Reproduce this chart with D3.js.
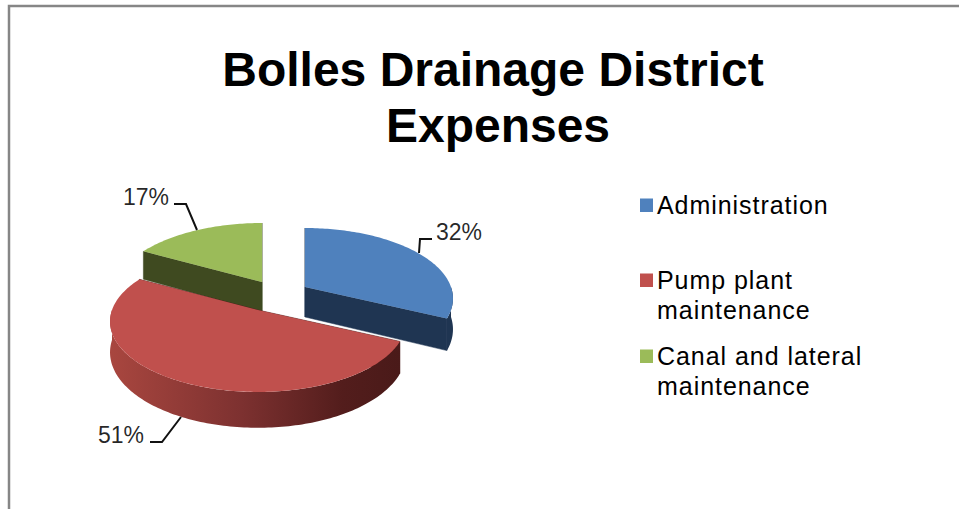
<!DOCTYPE html>
<html>
<head>
<meta charset="utf-8">
<script src="https://cdn.jsdelivr.net/npm/d3@7"></script>
<style>
  html, body { margin: 0; padding: 0; background: #fff; }
  svg { display: block; }
  text { font-family: "Liberation Sans", Arial, sans-serif; fill: #000; }
</style>
</head>
<body>
<script>
const titleLines = ["Bolles Drainage District", "Expenses"];
const categories = ["Administration", "Pump plant maintenance", "Canal and lateral maintenance"];
const values = [32, 51, 17];
const legendLines = [["Administration"], ["Pump plant", "maintenance"], ["Canal and lateral", "maintenance"]];

const topColors = ["#4f81bd", "#c0504d", "#9bbb59"];
const wallColors = ["#1f3552", "#4a1a19", "#3f4a20"];

var width = 959;
var height = 509;

// pie "3D" projection, back of the disc is squeezed a bit
var cx = 258, cy = 310;
var rx = 146, ry = 68.6, persp = 0.163, depth = 30;

// how far each slice was pulled out of the pie
var explode = [[47, -23], [0, 0], [4, -28]];

var svg = d3.select("body").append("svg")
  .attr("width", width)
  .attr("height", height);

// frame
svg.append("path")
  .attr("d", "M9,509V6H959")
  .attr("fill", "none")
  .attr("stroke", "#868686")
  .attr("stroke-width", 2.5);

// title
var titleX = [493, 498];
svg.selectAll("text.title")
  .data(titleLines)
  .enter().append("text")
  .attr("class", "title")
  .attr("x", function(d, i) { return titleX[i]; })
  .attr("y", function(d, i) { return 86 + i * 56; })
  .attr("text-anchor", "middle")
  .attr("font-size", 48)
  .attr("font-weight", "bold")
  .text(function(d) { return d; });

var defs = svg.append("defs");
var wallGrad = defs.append("linearGradient")
  .attr("id", "redWall")
  .attr("gradientUnits", "userSpaceOnUse")
  .attr("x1", cx - rx).attr("x2", cx + rx * 0.97)
  .attr("y1", 0).attr("y2", 0);
wallGrad.append("stop").attr("offset", "0").attr("stop-color", "#a8463f");
wallGrad.append("stop").attr("offset", "0.45").attr("stop-color", "#7d3130");
wallGrad.append("stop").attr("offset", "0.8").attr("stop-color", "#531d1c");
wallGrad.append("stop").attr("offset", "1").attr("stop-color", "#4a1a19");

var pie = d3.pie().sort(null);
var slices = pie(values);

function project(a, r, i, drop) {
  var u = Math.sin(a) * r, v = Math.cos(a) * r;
  var s = 1 / (1 + persp * v);
  return [
    cx + explode[i][0] + rx * u * s,
    cy + explode[i][1] - ry * v * s + (drop ? depth * s : 0)
  ];
}

function arcPoints(a0, a1, i, drop) {
  var n = Math.max(2, Math.ceil((a1 - a0) / 0.02));
  return d3.range(n + 1).map(function(k) {
    return project(a0 + (a1 - a0) * k / n, 1, i, drop);
  });
}

var line = d3.line();
var g = svg.append("g");

// back to front so the red slice covers the foot of the green walls
[2, 0, 1].forEach(function(i) {
  var d = slices[i];
  var a0 = d.startAngle, a1 = d.endAngle;
  var apex = project(0, 0, i, false), apexLow = project(0, 0, i, true);

  // inner walls along the two cuts
  [a0, a1].forEach(function(a) {
    g.append("path")
      .attr("d", line([apex, project(a, 1, i, false), project(a, 1, i, true), apexLow]) + "Z")
      .attr("fill", wallColors[i])
      .attr("stroke", wallColors[i])
      .attr("stroke-width", 0.5);
  });

  // outer wall, only the part that faces the viewer
  var w0 = Math.max(a0, Math.PI / 2), w1 = Math.min(a1, Math.PI * 1.5);
  if (w1 > w0) {
    var upper = arcPoints(w0, w1, i, false);
    var lower = arcPoints(w0, w1, i, true).reverse();
    g.append("path")
      .attr("d", line(upper.concat(lower)) + "Z")
      .attr("fill", i === 1 ? "url(#redWall)" : wallColors[i]);
  }

  // top face
  g.append("path")
    .attr("d", line([apex].concat(arcPoints(a0, a1, i, false))) + "Z")
    .attr("fill", topColors[i]);
});

// data labels with leader lines
var labelPos = [[436, 240], [98, 443], [123, 205]];
var leaders = [
  [[432, 239], [420, 239], [419, 253]],
  [[150, 442], [162, 442], [181, 417]],
  [[174, 204], [186, 204], [197, 230]]
];

values.forEach(function(v, i) {
  svg.append("path")
    .attr("d", line(leaders[i]))
    .attr("fill", "none")
    .attr("stroke", "#111")
    .attr("stroke-width", 2);
  svg.append("text")
    .attr("x", labelPos[i][0])
    .attr("y", labelPos[i][1])
    .attr("font-size", 23)
    .attr("fill-opacity", 0.85)
    .text(v + "%");
});

// legend
var legendY = [214, 289, 365];
var legend = svg.selectAll("g.legend")
  .data(categories)
  .enter().append("g")
  .attr("class", "legend")
  .attr("transform", function(d, i) { return "translate(640," + legendY[i] + ")"; });

legend.append("rect")
  .attr("x", 0).attr("y", -15.5)
  .attr("width", 13).attr("height", 13.5)
  .attr("fill", function(d, i) { return topColors[i]; });

legend.each(function(d, i) {
  d3.select(this).selectAll("text")
    .data(legendLines[i])
    .enter().append("text")
    .attr("x", 17)
    .attr("y", function(t, k) { return k * 30; })
    .attr("font-size", 25)
    .attr("letter-spacing", 0.95)
    .text(function(t) { return t; });
});
</script>
</body>
</html>
